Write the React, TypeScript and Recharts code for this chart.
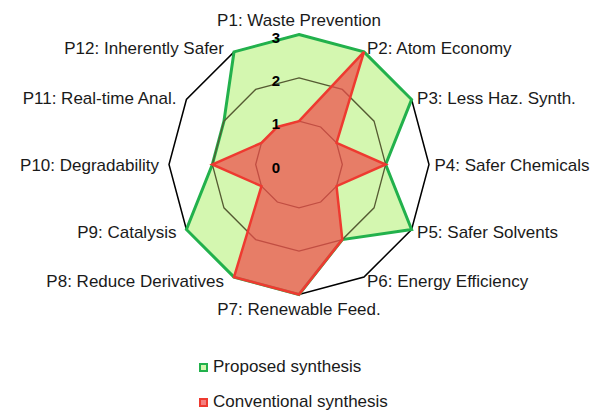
import React from 'react';
import { RadarChart, Radar, PolarGrid, PolarAngleAxis, PolarRadiusAxis, Legend } from 'recharts';

const categories = [
  'P1: Waste Prevention',
  'P2: Atom Economy',
  'P3: Less Haz. Synth.',
  'P4: Safer Chemicals',
  'P5: Safer Solvents',
  'P6: Energy Efficiency',
  'P7: Renewable Feed.',
  'P8: Reduce Derivatives',
  'P9: Catalysis',
  'P10: Degradability',
  'P11: Real-time Anal.',
  'P12: Inherently Safer',
];
const proposed = [3, 3, 3, 2, 3, 2, 3, 3, 3, 2, 2, 3];
const conventional = [1, 3, 1, 2, 1, 2, 3, 3, 1, 2, 1, 1];
const radiusTicks = [0, 1, 2, 3];

const data = categories.map((name, i) => ({
  name,
  proposed: proposed[i],
  conventional: conventional[i],
}));

const W = 596;
const H = 410;
const CX = 299;
const CY = 164.5;
const R = 130;
const MAX = 3;
const FONT = 'Liberation Sans, Arial, sans-serif';

const GREEN_STROKE = '#22b14c';
const GREEN_FILL = '#d4f7b0';
const RED_STROKE = '#ee3a30';
const RED_FILL = '#f04848';

const AngleTick = (props: any) => {
  const { x, y, payload } = props;
  const dx = x - CX;
  const dy = y - CY;
  const len = Math.hypot(dx, dy) || 1;
  const ux = dx / len;
  const uy = dy / len;
  const bx = CX + ux * R;
  const by = CY + uy * R;
  let tx = bx;
  let ty = by;
  let anchor: 'start' | 'middle' | 'end' = 'middle';
  if (Math.abs(ux) < 0.1) {
    ty = uy < 0 ? by - 9 : by + 20;
  } else if (ux > 0) {
    anchor = 'start';
    tx = bx + (Math.abs(uy) > 0.8 ? 3 : 5.5);
    ty = by + 6 + 4 * uy;
  } else {
    anchor = 'end';
    tx = bx - 10;
    ty = by + 6 + 4 * uy;
  }
  return (
    <text x={tx} y={ty} textAnchor={anchor} fontFamily={FONT} fontSize={17} fill="#1a1a1a">
      {payload.value}
    </text>
  );
};

const RadiusTick = (props: any) => {
  const { x, y, payload } = props;
  return (
    <text x={x - 23} y={y + 8} textAnchor="middle" fontFamily={FONT} fontSize={15} fontWeight="bold" fill="#000">
      {payload.value}
    </text>
  );
};

const legendStyles: Record<string, { stroke: string; fill: string }> = {
  'Proposed synthesis': { stroke: GREEN_STROKE, fill: GREEN_FILL },
  'Conventional synthesis': { stroke: RED_STROKE, fill: '#f47f7f' },
};
const legendOrder = ['Proposed synthesis', 'Conventional synthesis'];

const renderLegend = () => (
  <div style={{ fontFamily: FONT, fontSize: 17, color: '#1a1a1a' }}>
    {legendOrder.map((name) => (
      <div key={name} style={{ display: 'flex', alignItems: 'center', height: 18, marginBottom: 17 }}>
        <span
          style={{
            display: 'inline-block',
            width: 5,
            height: 5,
            border: `2px solid ${legendStyles[name].stroke}`,
            background: legendStyles[name].fill,
            marginRight: 5,
          }}
        />
        <span>{name}</span>
      </div>
    ))}
  </div>
);

const layerStyle: React.CSSProperties = { position: 'absolute', left: 0, top: 0 };

// stacked layers so the grid rings sit between the two fills, as in the original
const Layer = ({ children }: { children: React.ReactNode }) => (
  <div style={layerStyle}>
    <RadarChart width={W} height={H} data={data} cx={CX} cy={CY} outerRadius={R} margin={{ top: 0, right: 0, bottom: 0, left: 0 }}>
      {children}
    </RadarChart>
  </div>
);

const hiddenRadius = (
  <PolarRadiusAxis angle={90} domain={[0, MAX]} ticks={radiusTicks as any} tickCount={4} axisLine={false} tickLine={false} tick={false} />
);
const hiddenAngle = <PolarAngleAxis dataKey="name" tick={false} tickLine={false} axisLine={false} />;

// ring radii for the grid, same linear mapping as the radius axis (0..MAX -> 0..R)
const ringRadii = radiusTicks.filter((t) => t > 0 && t < MAX).map((t) => (t / MAX) * R);

export default function App() {
  return (
    <div style={{ position: 'absolute', left: 0, top: 0, width: W, height: H, background: '#fff', overflow: 'hidden' }}>
      <Layer>
        <PolarAngleAxis dataKey="name" tick={<AngleTick />} tickLine={false} axisLine={{ stroke: '#000', strokeWidth: 1.5 }} />
        {hiddenRadius}
      </Layer>
      <Layer>
        {hiddenAngle}
        {hiddenRadius}
        <Radar
          name="Proposed synthesis"
          dataKey="proposed"
          stroke={GREEN_STROKE}
          strokeWidth={3}
          fill={GREEN_FILL}
          fillOpacity={1}
          isAnimationActive={false}
        />
      </Layer>
      <Layer>
        {hiddenAngle}
        {hiddenRadius}
        <PolarGrid gridType="polygon" radialLines={false} polarRadius={ringRadii} stroke="#555a32" strokeWidth={1.3} />
      </Layer>
      <Layer>
        {hiddenAngle}
        <PolarRadiusAxis
          angle={90}
          domain={[0, MAX]}
          ticks={radiusTicks as any}
          tickCount={4}
          axisLine={false}
          tickLine={false}
          tick={<RadiusTick />}
        />
        <Radar
          name="Conventional synthesis"
          dataKey="conventional"
          stroke={RED_STROKE}
          strokeWidth={2.5}
          fill={RED_FILL}
          fillOpacity={0.7}
          isAnimationActive={false}
        />
        <Legend
          layout="vertical"
          verticalAlign="bottom"
          content={renderLegend}
          wrapperStyle={{ position: 'absolute', left: 199, top: 358, width: 260, bottom: 'auto' }}
        />
      </Layer>
    </div>
  );
}
